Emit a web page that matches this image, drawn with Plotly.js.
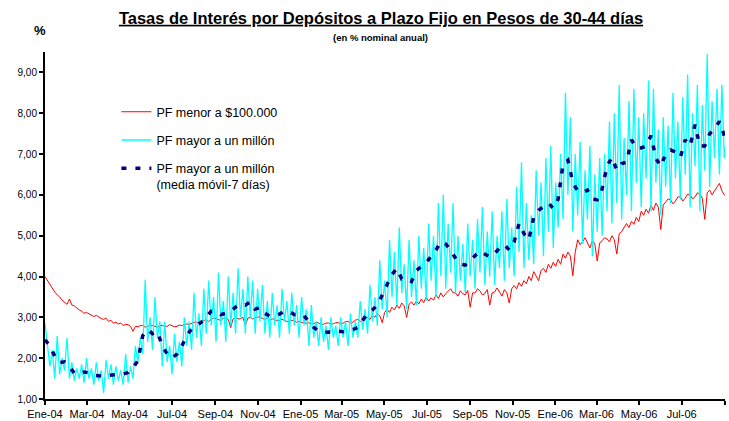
<!DOCTYPE html>
<html><head><meta charset="utf-8">
<script src="https://cdn.plot.ly/plotly-3.0.1.min.js"></script>
<style>html,body{margin:0;padding:0;background:#fff}#chart{width:729px;height:421px}</style>
</head><body><div id="chart"></div>
<script>
const tickDates = ['2004-01-01','2004-03-01','2004-05-01','2004-07-01','2004-09-01','2004-11-01','2005-01-01','2005-03-01','2005-05-01','2005-07-01','2005-09-01','2005-11-01','2006-01-01','2006-03-01','2006-05-01','2006-07-01','2006-09-01'];
const tickLabels = ['Ene-04','Mar-04','May-04','Jul-04','Sep-04','Nov-04','Ene-05','Mar-05','May-05','Jul-05','Sep-05','Nov-05','Ene-06','Mar-06','May-06','Jul-06',''];
const yTicks = [1,2,3,4,5,6,7,8,9];
const seriesNames = ['PF menor a $100.000','PF mayor a un millón','PF mayor a un millón<br>(media móvil-7 días)'];

// half-weekly readings, PF menor a $100.000
const redHalfWeek = [
4.0,3.9, 3.8,3.7, 3.62,3.55, 3.5,3.42, 3.38,3.32, 3.45,3.3, 3.28,3.22, 3.18,3.15, 3.1,3.12, 3.08,3.04,
3.02,3.05, 3.0,2.97, 2.95,2.98, 2.9,2.93, 2.86,2.88, 2.84,2.86, 2.8,2.83, 2.82,2.78, 2.66,2.78, 2.77,2.8,
2.8,2.76, 2.78,2.81, 2.8,2.77, 2.76,2.8, 2.8,2.78, 2.78,2.82, 2.8,2.77, 2.78,2.81, 2.8,2.83, 2.84,2.82,
2.85,2.88, 2.88,2.86, 2.9,2.93, 2.93,2.9, 2.95,2.98, 2.97,2.94, 2.92,2.98, 2.98,2.95, 2.75,2.97, 3.0,2.96,
2.97,3.0, 2.8,2.98, 3.0,2.96, 2.98,3.01, 3.0,2.97, 2.95,2.98, 2.93,2.96, 2.95,2.92, 2.92,2.95, 2.93,2.9,
2.9,2.93, 2.92,2.88, 2.9,2.87, 2.88,2.85, 2.87,2.84, 2.85,2.88, 2.86,2.82, 2.83,2.86, 2.86,2.83, 2.84,2.87,
2.87,2.84, 2.86,2.9, 2.9,2.86, 2.88,2.93, 2.95,2.9, 2.92,2.98, 3.0,2.95, 3.05,3.0, 3.1,3.04, 2.87,3.12,
3.2,3.12, 3.25,3.18, 3.3,3.22, 3.35,3.28, 3.0,3.32, 3.38,3.3, 3.4,3.33, 3.45,3.36, 3.5,3.4, 3.48,3.42,
3.55,3.46, 3.6,3.5, 3.58,3.65, 3.7,3.6, 3.6,3.52, 3.65,3.58, 3.55,3.66, 3.25,3.6, 3.6,3.7, 3.65,3.55,
3.58,3.68, 3.3,3.6, 3.62,3.72, 3.6,3.52, 3.68,3.6, 3.35,3.7, 3.78,3.7, 3.85,3.76, 3.9,3.82, 4.0,3.9,
4.12,4.0, 3.9,4.15, 4.2,4.1, 4.3,4.2, 4.35,4.25, 4.42,4.3, 4.55,4.45, 4.6,4.5, 4.02,4.6, 4.9,4.78,
4.85,4.95, 4.82,4.7, 4.88,4.8, 4.38,4.82, 4.88,4.95, 4.92,4.85, 5.0,4.9, 4.55,5.05, 5.1,5.2, 5.3,5.2,
5.35,5.28, 5.45,5.35, 5.6,5.5, 5.65,5.55, 5.75,5.62, 5.8,5.7, 5.15,5.75, 5.82,5.9, 5.88,5.78, 5.85,5.95,
5.95,5.85, 5.92,6.02, 6.0,5.9, 5.95,6.05, 6.02,5.92, 5.4,6.05, 6.12,6.0, 6.1,6.2, 6.28,6.1, 6.0,5.95];

// weekly readings, 7-day moving average
const maWeekly = [
2.45,2.3,2.05,1.89,1.91,1.8,1.63,1.62,1.66,1.64,
1.58,1.57,1.56,1.58,1.59,1.6,1.61,1.65,1.76,1.94,
2.55,2.7,2.6,2.65,2.3,2.1,2.0,2.1,2.3,2.55,
2.72,2.8,2.88,3.0,3.15,3.15,3.07,3.1,3.15,3.25,
3.33,3.3,3.38,3.2,3.24,3.1,3.03,3.04,3.08,3.15,
3.14,3.07,3.08,3.04,2.88,2.75,2.67,2.62,2.64,2.63,
2.66,2.65,2.68,2.7,2.75,2.93,3.1,3.18,3.3,3.55,
3.8,4.05,4.2,3.94,3.95,3.88,4.15,4.23,4.33,4.5,
4.65,4.85,4.8,4.64,4.45,4.3,4.28,4.4,4.52,4.62,
4.55,4.48,4.56,4.7,4.78,4.65,4.85,5.3,5.05,4.9,
5.45,5.62,5.72,5.8,5.67,5.9,6.75,6.85,6.3,6.1,
6.06,6.12,5.9,5.88,6.15,6.7,6.92,6.61,6.77,6.8,
7.35,7.15,7.15,7.2,7.45,6.9,6.7,7.0,7.1,7.05,
6.92,7.35,7.2,7.72,7.2,7.2,7.5,7.62,7.8,7.45];

// half-weekly readings, PF mayor a un millón
const cyanHalfWeek = [
2.85,2.3, 1.8,2.2, 1.5,2.55, 1.6,2.0, 1.7,2.5, 1.5,1.9, 1.45,1.75, 1.5,1.85, 1.4,2.0, 1.5,1.75,
1.35,1.9, 1.45,1.7, 1.15,1.95, 1.5,1.85, 1.35,1.8, 1.45,1.7, 1.35,2.1, 1.4,1.8, 1.5,2.3, 1.9,2.5,
2.1,3.92, 2.4,3.0, 2.2,3.5, 2.5,2.9, 1.8,2.9, 1.9,2.3, 1.6,2.6, 1.9,2.4, 1.8,3.0, 2.3,2.9,
2.2,3.6, 2.5,3.1, 2.3,3.7, 2.6,3.9, 2.8,3.5, 2.4,4.1, 2.8,3.4, 2.4,4.0, 2.8,3.6, 2.6,4.2,
3.0,3.7, 2.6,4.0, 3.0,3.9, 2.6,3.7, 2.9,3.8, 2.6,3.4, 2.5,3.6, 2.8,3.3, 2.5,3.7, 2.9,3.4,
2.6,3.6, 2.8,3.3, 2.5,3.5, 2.8,3.2, 2.3,3.3, 2.5,2.9, 2.3,3.0, 2.4,2.8, 2.2,3.0, 2.5,2.8,
2.3,3.0, 2.5,2.9, 2.3,3.1, 2.5,2.9, 2.5,3.4, 2.7,3.2, 2.6,3.8, 2.9,3.5, 2.8,4.4, 3.2,3.9,
3.0,4.9, 3.5,4.6, 3.3,5.2, 3.6,4.3, 3.2,4.9, 3.5,4.4, 3.3,5.0, 3.7,4.7, 3.4,5.3, 3.9,5.0,
3.5,5.8, 4.0,6.0, 3.7,5.3, 4.1,5.8, 3.6,5.0, 3.9,4.8, 3.6,5.3, 4.0,4.9, 3.7,5.4, 4.1,5.7,
3.8,5.1, 4.0,5.6, 3.8,5.0, 4.2,5.6, 3.9,5.9, 4.2,5.2, 4.0,6.2, 4.6,6.8, 4.2,5.8, 4.4,5.5,
4.3,6.6, 5.0,6.3, 4.5,6.9, 5.1,7.2, 4.7,6.3, 5.2,7.0, 5.4,8.5, 6.0,7.9, 5.1,7.0, 5.5,7.3,
4.8,6.6, 5.4,7.2, 4.5,6.5, 5.1,6.9, 5.0,7.0, 5.6,7.8, 5.3,8.0, 5.8,8.7, 5.4,7.4, 6.0,8.3,
5.6,8.6, 6.3,7.9, 5.7,8.0, 6.4,8.8, 5.6,8.6, 6.3,7.6, 5.5,7.9, 6.2,7.7, 5.8,8.5, 6.4,7.8,
5.9,8.4, 6.5,8.95, 5.7,8.0, 6.7,8.7, 5.6,8.2, 6.6,9.45, 6.2,8.3, 6.9,8.6, 6.5,8.7, 6.9,7.5];

function dateAt(days){
  const d = new Date(Date.UTC(2004,0,1) + Math.round(days*86400000));
  return d.toISOString().slice(0,19).replace('T',' ');
}
const xRed = redHalfWeek.map((_, i) => dateAt(i*3.5));
const xMa = maWeekly.map((_, i) => dateAt(i*7));
const xCyan = cyanHalfWeek.map((_, i) => dateAt(i*3.5));

const traces = [
  {x:xRed, y:redHalfWeek, name:seriesNames[0], type:'scatter', mode:'lines',
   line:{color:'#FF0000', width:1}, legendgroup:'a'},
  {x:xCyan, y:cyanHalfWeek, name:seriesNames[1], type:'scatter', mode:'lines',
   line:{color:'#00FFFF', width:1.3}, legendgroup:'b'},
  {x:xMa, y:maWeekly, name:seriesNames[2], type:'scatter', mode:'lines',
   line:{color:'#000080', width:3.5, dash:'5px,9px'}, legendgroup:'c'}
];

const layout = {
  width:729, height:421,
  margin:{l:45, r:4, t:52, b:22},
  paper_bgcolor:'#ffffff', plot_bgcolor:'#ffffff',
  separators:',.',
  font:{family:'Arial, "Liberation Sans", sans-serif', color:'#000'},
  showlegend:true,
  title:{text:'<u>Tasas de Interés por Depósitos a Plazo Fijo en Pesos de 30-44 días</u>',
    font:{size:16.5, weight:'bold', color:'#000'},
    xref:'container', x:381/729, xanchor:'center',
    yref:'container', y:1-18/421, yanchor:'middle'},
  xaxis:{type:'date', range:['2004-01-01','2006-09-01'], tickmode:'array',
    tickvals:tickDates, ticktext:tickLabels, ticks:'outside', ticklen:4, tickwidth:2,
    tickcolor:'#000', showline:true, linecolor:'#000', linewidth:2, showgrid:false,
    zeroline:false, tickfont:{size:11, color:'#000'}, fixedrange:true},
  yaxis:{range:[1,9.5], tickmode:'array', tickvals:yTicks, tickformat:'.2f',
    ticks:'outside', ticklen:4, tickwidth:2, tickcolor:'#000', showline:true,
    linecolor:'#000', linewidth:2, showgrid:false, zeroline:false,
    tickfont:{size:10, color:'#000'}, fixedrange:true},
  legend:{x:0.105, y:0.87, xanchor:'left', yanchor:'top', bgcolor:'rgba(0,0,0,0)',
    font:{size:12.5, color:'#000'}, traceorder:'grouped', tracegroupgap:9, valign:'top'},
  annotations:[
    {text:'%', xref:'paper', yref:'paper', x:-0.007, y:1.063, showarrow:false,
     font:{size:13, color:'#000', weight:'bold'}, xanchor:'center', yanchor:'middle'},
    {text:'<b>(en % nominal anual)</b>', xref:'paper', yref:'paper', x:0.494, y:1.043,
     showarrow:false, font:{size:9.5, color:'#000'}, xanchor:'center', yanchor:'middle'}
  ]
};

Plotly.newPlot('chart', traces, layout, {displayModeBar:false, staticPlot:true});
</script>
</body></html>
